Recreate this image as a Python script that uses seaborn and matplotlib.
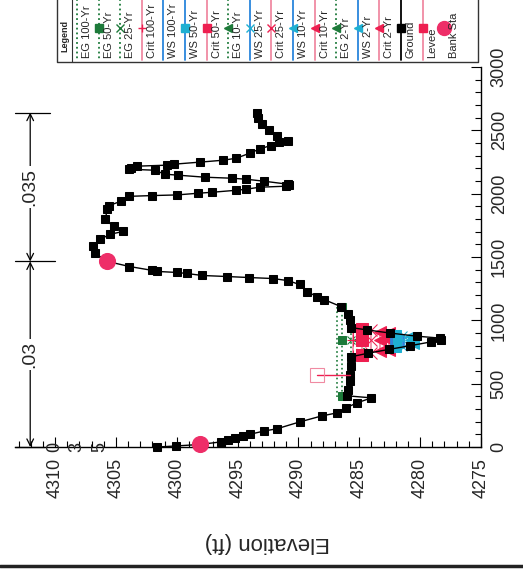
import matplotlib
matplotlib.use("Agg")
import matplotlib.pyplot as plt
import seaborn as sns
from matplotlib.ticker import MultipleLocator

sns.set_style("white")
plt.rcParams['font.family'] = ['Liberation Sans', 'DejaVu Sans']

# Ground profile: station (ft) and elevation (ft)
ground_sta = [0, 8, 20, 40, 55, 70, 85, 100, 127, 143, 198, 245, 270, 309, 348, 388, 404,
              450, 520, 570, 640, 712, 740, 770, 800, 830, 845, 860, 875, 900, 925, 943,
              1000, 1050, 1108, 1164, 1188, 1227, 1283, 1314, 1330, 1338, 1346, 1354, 1370,
              1378, 1386, 1394, 1425, 1465, 1528, 1584, 1639, 1679, 1702, 1742, 1797, 1876,
              1905, 1940, 1979, 1985, 1990, 2003, 2011, 2027, 2035, 2051, 2059, 2067, 2075,
              2098, 2114, 2122, 2130, 2146, 2154, 2185, 2193, 2205, 2217, 2225, 2233, 2249,
              2264, 2280, 2320, 2352, 2380, 2407, 2415, 2454, 2500, 2550, 2600, 2640]
ground_elev = [4301.6, 4300.1, 4298.1, 4296.4, 4295.8, 4295.2, 4294.6, 4294.0, 4292.8, 4291.8,
               4289.9, 4288.1, 4286.8, 4286.1, 4285.2, 4284.0, 4286.0, 4285.9, 4285.8, 4285.8,
               4285.7, 4285.7, 4284.3, 4282.6, 4280.8, 4279.1, 4278.3, 4278.4, 4280.3, 4282.5,
               4284.4, 4285.7, 4285.8, 4285.9, 4286.5, 4287.9, 4288.5, 4289.3, 4289.9, 4290.9,
               4292.1, 4294.1, 4295.9, 4297.9, 4299.2, 4300.0, 4301.6, 4302.0, 4303.9, 4305.7,
               4306.7, 4306.9, 4306.3, 4305.5, 4304.4, 4305.2, 4305.9, 4305.7, 4305.6, 4304.6,
               4303.9, 4302.0, 4300.0, 4298.3, 4297.1, 4295.1, 4294.3, 4293.2, 4291.0, 4290.8,
               4290.9, 4292.8, 4294.3, 4295.5, 4297.7, 4299.9, 4301.0, 4301.8, 4303.9, 4303.8,
               4303.3, 4300.8, 4300.2, 4298.1, 4296.2, 4295.1, 4294.0, 4293.2, 4292.3, 4291.6,
               4290.9, 4291.8, 4292.4, 4293.0, 4293.3, 4293.4]

bank_sta = [20, 1465]
bank_elev = [4298.1, 4305.7]

levee_sta = [570, 570]
levee_elev = [4288.5, 4285.8]

# Profiles: elevation, left / thalweg / right station
profiles = ["100-Yr", "50-Yr", "25-Yr", "10-Yr", "2-Yr"]
ws_elev = [4282.4, 4281.9, 4281.4, 4280.9, 4280.4]
ws_left = [772, 781, 790, 799, 808]
ws_right = [899, 892, 886, 879, 873]
crit_elev = [4285.5, 4284.8, 4284.0, 4283.3, 4282.6]
crit_left = [718, 730, 744, 757, 769]
crit_right = [939, 930, 920, 911, 901]
eg_elev = [4286.8, 4286.4, 4285.7, 4285.2, 4284.6]
eg_left = [396, 400, 714, 723, 733]
eg_right = [1112, 1108, 942, 935, 928]
thalweg_sta = 845

n_values = [".03", ".035"]
n_sta = [0, 1465, 2640]

legend_names = ["EG 100-Yr", "EG 50-Yr", "EG 25-Yr", "Crit 100-Yr", "WS 100-Yr", "WS 50-Yr",
                "Crit 50-Yr", "EG 10-Yr", "WS 25-Yr", "Crit 25-Yr", "WS 10-Yr", "Crit 10-Yr",
                "EG 2-Yr", "WS 2-Yr", "Crit 2-Yr", "Ground", "Levee", "Bank Sta"]

EG_C, WS_C, WS_M, CR_C, CR_M, BANK_C = '#1d7a3a', '#2a86dc', '#1eb0d2', '#f08aa2', '#ee1f50', '#ee2e68'
markers = {"100-Yr": None, "50-Yr": 's', "25-Yr": 'x', "10-Yr": '<', "2-Yr": '<'}
crit_markers = {"100-Yr": '+', "50-Yr": 's', "25-Yr": 'x', "10-Yr": '<', "2-Yr": '<'}

styles = {}
for p in profiles:
    styles["EG " + p] = dict(color=EG_C, ls=':', marker=markers[p], mc=EG_C)
    styles["WS " + p] = dict(color=WS_C, ls='-', marker=markers[p], mc=WS_M)
    styles["Crit " + p] = dict(color=CR_C, ls='-', marker=crit_markers[p], mc=CR_M)
styles["Ground"] = dict(color='black', ls='-', marker='s', mc='black')
styles["Levee"] = dict(color=CR_C, ls='-', marker='s', mc=CR_M)

fig = plt.figure(figsize=(5.23, 5.72), dpi=100)
ax = fig.add_axes([15 / 523, (572 - 447) / 572, (481 - 15) / 523, (447 - 67) / 572])


def draw(elev, sta, st, ms=6, lw=1.0, z=3):
    mk = st['marker']
    sns.lineplot(x=elev, y=sta, sort=False, estimator=None, ax=ax, color=st['color'],
                 linestyle=st['ls'], lw=lw, marker=mk if mk else None, markersize=ms,
                 markerfacecolor=st['mc'], markeredgecolor=st['mc'], zorder=z, clip_on=False)


# energy grade, critical and water surface lines
for i, p in enumerate(profiles):
    draw([eg_elev[i]] * 3, [eg_left[i], thalweg_sta, eg_right[i]], styles["EG " + p], ms=6, lw=1.2)
for i, p in enumerate(profiles):
    draw([crit_elev[i]] * 3, [crit_left[i], thalweg_sta, crit_right[i]], styles["Crit " + p], ms=8, lw=1.2)
for i, p in enumerate(profiles):
    draw([ws_elev[i]] * 3, [ws_left[i], thalweg_sta, ws_right[i]], styles["WS " + p], ms=6, lw=2.0)

# ground
draw(ground_elev, ground_sta, styles["Ground"], ms=5.5, lw=1.0, z=4)

# levee
ax.plot(levee_elev, levee_sta, color=CR_M, lw=1.0, zorder=5)
ax.plot(levee_elev[:1], levee_sta[:1], marker='s', ms=10, mfc='none', mec=CR_C, mew=0.8, zorder=5)

# bank stations
sns.scatterplot(x=bank_elev, y=bank_sta, ax=ax, color=BANK_C, s=130, edgecolor=BANK_C,
                zorder=6, clip_on=False)

ax.set_xlim(4313.3, 4275)
ax.set_ylim(0, 3000)
for side in ['left', 'top']:
    ax.spines[side].set_visible(False)
for side in ['bottom', 'right']:
    ax.spines[side].set_color('black')
    ax.spines[side].set_linewidth(1.0)

ax.set_xticks(range(4275, 4311, 5))
ax.xaxis.set_minor_locator(MultipleLocator(1))
ax.set_yticks(range(0, 3001, 500))
ax.yaxis.set_minor_locator(MultipleLocator(100))
ax.yaxis.tick_right()
ax.tick_params(axis='x', which='both', direction='in', bottom=True, top=False, labelsize=13, pad=8)
ax.tick_params(axis='y', which='both', direction='in', right=True, left=False,
               labelright=True, labelleft=False, labelsize=13, pad=7)
ax.tick_params(which='major', length=7, width=0.8, color='black')
ax.tick_params(which='minor', length=4, width=0.8, color='black')
for lab in ax.get_xticklabels():
    lab.set_rotation(90)
for lab in ax.get_yticklabels():
    lab.set_rotation(90)
    lab.set_va('center')
ax.set_xlabel('')
ax.set_ylabel('')
ax.grid(False)

# Manning's n annotation
n_x = 4312.05
bar_ends = [4310.8, 4310.0, 4310.4]
for s, b in zip(n_sta, bar_ends):
    ax.plot([4313.3, b], [s, s], color='black', lw=0.9, clip_on=False, zorder=2)
for i, n in enumerate(n_values):
    ax.annotate('', xy=(n_x, n_sta[i]), xytext=(n_x, n_sta[i + 1]),
                arrowprops=dict(arrowstyle='<->', lw=0.9, color='black', shrinkA=0, shrinkB=0,
                                mutation_scale=12), annotation_clip=False)
    ax.text(n_x, (n_sta[i] + n_sta[i + 1]) / 2, n, rotation=90, ha='center', va='center',
            fontsize=14, bbox=dict(facecolor='white', edgecolor='none', pad=1.5), zorder=3)
for ch, e in zip("035", [4310.0, 4308.2, 4306.3]):
    ax.text(e, 0, ch, rotation=90, ha='center', va='center', fontsize=13, zorder=3)

fig.text(267 / 523, 1 - 543 / 572, 'Elevation (ft)', rotation=180, ha='center', va='center',
         fontsize=16)

# legend drawn in pixel space (rotated layout)
lax = fig.add_axes([0, 0, 1, 1], zorder=5)
lax.set_xlim(0, 523)
lax.set_ylim(572, 0)
lax.axis('off')
lax.patch.set_alpha(0)
lax.plot([57, 57, 478, 478], [-5, 62, 62, -5], color='#333333', lw=1.0)
lax.plot([72, 72], [-5, 62], color='#333333', lw=0.8)
lax.text(65, 36, 'Legend', rotation=90, ha='center', va='center', fontsize=6.5, fontweight='bold')
for i, name in enumerate(legend_names):
    lx = 77 + 21.6 * i
    if name == "Bank Sta":
        lax.plot([lx], [28], marker='o', ms=10, color=BANK_C, ls='none')
    else:
        st = styles[name]
        lax.plot([lx, lx], [-5, 60], color=st['color'], ls=st['ls'], lw=1.3)
        if st['marker']:
            lax.plot([lx], [28], marker=st['marker'], ms=6, color=st['mc'], ls='none')
    lax.text(lx + 10, 58, name, rotation=90, ha='center', va='bottom', fontsize=8)

lax.plot([0, 523], [566, 566], color='#222222', lw=2.5)

fig.savefig('out.png', dpi=100)
